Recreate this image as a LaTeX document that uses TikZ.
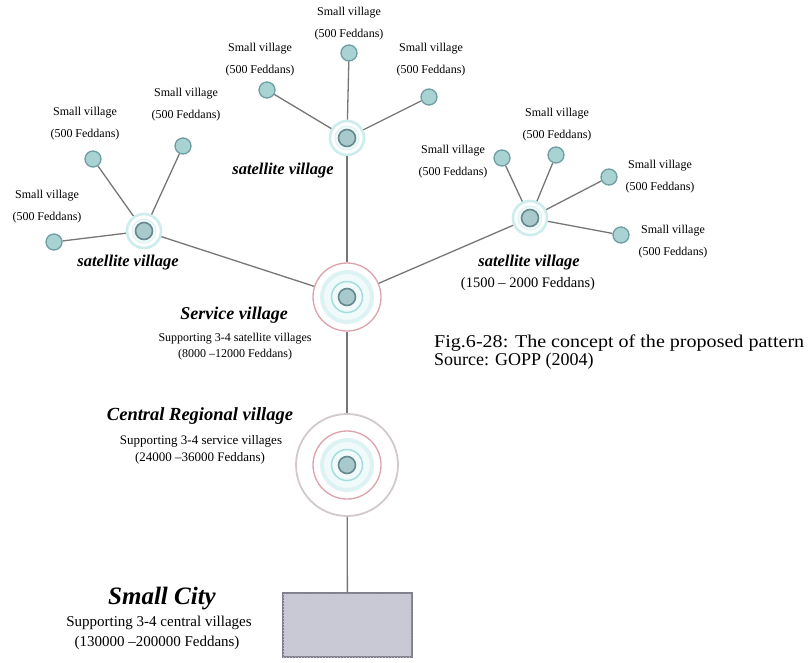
\documentclass[tikz,border=0pt]{standalone}
\usepackage{fontspec}
\setmainfont{Liberation Serif}
\usetikzlibrary{patterns}
\definecolor{lnk}{HTML}{767676}
\definecolor{smfill}{HTML}{A9D2D2}
\definecolor{smdraw}{HTML}{6E9EA2}
\definecolor{satc}{HTML}{CDEDED}
\definecolor{satc2}{HTML}{DDF3F3}
\definecolor{palec}{HTML}{F1FAFA}
\definecolor{corefill}{HTML}{A8CACD}
\definecolor{coredraw}{HTML}{67898E}
\definecolor{redc}{HTML}{DBA2AA}
\definecolor{band}{HTML}{DDF3F3}
\definecolor{cyr}{HTML}{A5DCDC}
\definecolor{grayc}{HTML}{D2CACA}
\definecolor{cityfill}{HTML}{C8C8D6}
\definecolor{citydraw}{HTML}{7E7E8C}
\newcommand\fitw[2]{\resizebox{#1}{\height}{#2}}
\begin{document}
\begin{tikzpicture}[x=1pt,y=-1pt,
  smallv/.style={circle, inner sep=0pt, minimum size=16pt, fill=smfill, draw=smdraw, line width=1.3pt},
  satring/.style={circle, inner sep=0pt, minimum size=34pt, fill=white, draw=satc, line width=2.6pt},
  satmid/.style={circle, inner sep=0pt, minimum size=24pt, fill=palec, draw=satc2, line width=1pt},
  core/.style={circle, inner sep=0pt, minimum size=17pt, fill=corefill, draw=coredraw, line width=1.6pt},
  redring/.style={circle, inner sep=0pt, minimum size=68pt, fill=white, draw=redc, line width=1.3pt},
  cyanband/.style={circle, inner sep=0pt, minimum size=50pt, fill=palec, draw=band, line width=4pt},
  cyanring/.style={circle, inner sep=0pt, minimum size=31pt, fill=palec, draw=cyr, line width=1.5pt},
  grayring/.style={circle, inner sep=0pt, minimum size=102pt, fill=white, draw=grayc, line width=1.8pt},
  city/.style={rectangle, inner sep=0pt, minimum width=129pt, minimum height=64pt, fill=cityfill, draw=citydraw, line width=1.4pt,
    postaction={pattern=crosshatch dots, pattern color=citydraw!40}},
  link/.style={draw=lnk, line width=1.3pt},
  lbl/.style={align=center, inner sep=0pt, font=\fontsize{12}{22}\selectfont},
  satlbl/.style={inner sep=0pt, font=\fontsize{16.5}{18}\selectfont\bfseries\itshape},
  title/.style={inner sep=0pt, font=\fontsize{18}{20}\selectfont\bfseries\itshape},
  sub/.style={inner sep=0pt, font=\fontsize{12}{14}\selectfont}
]
\useasboundingbox (0,0) rectangle (811,662);

% ---------- hierarchy centres ----------
\node[satring] (ts) at (347,138) {};
\node[satmid] (ts-m) at (ts) {};
\node[core] (ts-c) at (ts) {};

\node[satring] (ls) at (144,231) {};
\node[satmid] (ls-m) at (ls) {};
\node[core] (ls-c) at (ls) {};

\node[satring] (rs) at (530,218) {};
\node[satmid] (rs-m) at (rs) {};
\node[core] (rs-c) at (rs) {};

\node[redring] (sv) at (347,297) {};
\node[cyanband] (sv-b) at (sv) {};
\node[cyanring] (sv-r) at (sv) {};
\node[core] (sv-c) at (sv) {};

\node[grayring] (cv) at (347,465) {};
\node[redring] (cv-r) at (cv) {};
\node[cyanband] (cv-b) at (cv) {};
\node[cyanring] (cv-cr) at (cv) {};
\node[core] (cv-c) at (cv) {};

\node[city] (city) at (347.5,625) {};

% ---------- small villages ----------
\node[smallv] (t1) at (267,90) {};
\node[smallv] (t2) at (349,53) {};
\node[smallv] (t3) at (429,97) {};
\node[smallv] (l1) at (93,159) {};
\node[smallv] (l2) at (183,146) {};
\node[smallv] (l3) at (54,242) {};
\node[smallv] (r1) at (502,158) {};
\node[smallv] (r2) at (556,155) {};
\node[smallv] (r3) at (609,177) {};
\node[smallv] (r4) at (621,235) {};

% ---------- connectors ----------
\draw[link] (ts) -- (t1);
\draw[link] (ts) -- (t2);
\draw[link] (ts) -- (t3);
\draw[link] (ls) -- (l1);
\draw[link] (ls) -- (l2);
\draw[link] (ls) -- (l3);
\draw[link] (rs) -- (r1);
\draw[link] (rs) -- (r2);
\draw[link] (rs) -- (r3);
\draw[link] (rs) -- (r4);
\draw[link] (ts) -- (sv);
\draw[link] (ls) -- (sv);
\draw[link] (rs) -- (sv);
\draw[link] (sv) -- (cv);
\draw[link] (cv) -- (city);

% ---------- small village labels ----------
\node[lbl] (t2l) at (349,24) {Small village\\(500 Feddans)};
\node[lbl] (t1l) at (260,60) {Small village\\(500 Feddans)};
\node[lbl] (t3l) at (431,60) {Small village\\(500 Feddans)};
\node[lbl] (l1l) at (85,124) {Small village\\(500 Feddans)};
\node[lbl] (l2l) at (186,105) {Small village\\(500 Feddans)};
\node[lbl] (l3l) at (47,207) {Small village\\(500 Feddans)};
\node[lbl] (r1l) at (557,125) {Small village\\(500 Feddans)};
\node[lbl] (r2l) at (453,162) {Small village\\(500 Feddans)};
\node[lbl] (r3l) at (660,177) {Small village\\(500 Feddans)};
\node[lbl] (r4l) at (673,242) {Small village\\(500 Feddans)};

% ---------- satellite labels ----------
\node[satlbl] (tsl) at (283,171) {satellite village};
\node[satlbl] (lsl) at (128,263) {satellite village};
\node[satlbl] (rsl) at (529,263) {satellite village};
\node[inner sep=0pt, font=\fontsize{14.5}{16}\selectfont] (rsf) at (528,284) {(1500 – 2000 Feddans)};

% ---------- service village ----------
\node[title] (svt) at (234,315) {Service village};
\node[sub] (svs) at (235,339) {Supporting 3-4 satellite villages};
\node[sub] (svf) at (235,355) {(8000 –12000 Feddans)};

% ---------- central regional village ----------
\node[inner sep=0pt, font=\fontsize{18.5}{20}\selectfont\bfseries\itshape] (cvt) at (200,416) {Central Regional village};
\node[inner sep=0pt, font=\fontsize{13}{15}\selectfont] (cvs) at (201,441) {Supporting 3-4 service villages};
\node[inner sep=0pt, font=\fontsize{13}{15}\selectfont] (cvf) at (200,458) {(24000 –36000 Feddans)};

% ---------- small city ----------
\node[inner sep=0pt, font=\fontsize{25}{27}\selectfont\bfseries\itshape] (ct) at (162,599) {Small City};
\node[inner sep=0pt, font=\fontsize{15}{17}\selectfont] (cs) at (159,623) {Supporting 3-4 central villages};
\node[inner sep=0pt, font=\fontsize{15}{17}\selectfont] (cf) at (157,643) {(130000 –200000 Feddans)};

% ---------- caption ----------
\node[anchor=west, inner sep=0pt, font=\fontsize{18}{20}\selectfont] (cap1) at (434,343) {\fitw{370pt}{Fig.6-28: The concept of the proposed pattern}};
\node[anchor=west, inner sep=0pt, font=\fontsize{18}{20}\selectfont] (cap2) at (434,361) {Source: GOPP (2004)};
\end{tikzpicture}
\end{document}
